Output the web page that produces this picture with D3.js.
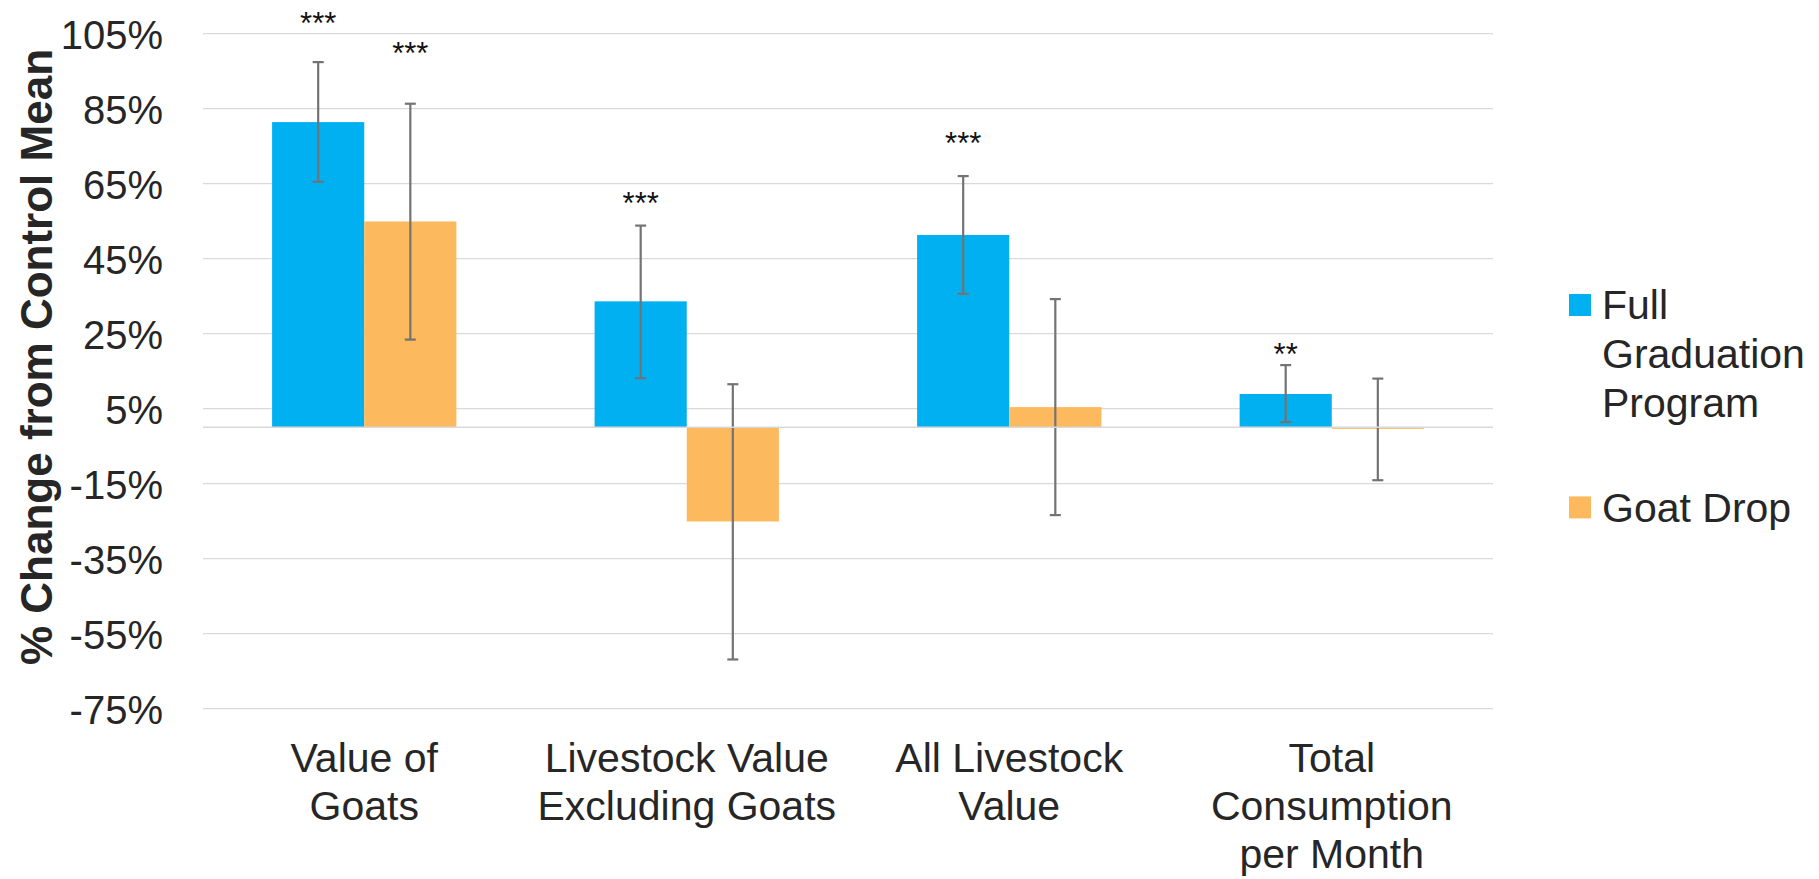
<!DOCTYPE html>
<html>
<head>
<meta charset="utf-8">
<script src="https://cdn.jsdelivr.net/npm/d3@7"></script>
<style>
  html, body { margin: 0; padding: 0; background: #fff; }
  svg { display: block; }
  text { font-family: "Liberation Sans", Arial, sans-serif; }
</style>
</head>
<body>
<svg id="chart" width="1819" height="879"></svg>
<script>
// Outcome categories (each entry split into its label lines)
const categories = ["Value of Goats", "Livestock Value Excluding Goats", "All Livestock Value", "Total Consumption per Month"];
const categoryLines = [["Value of", "Goats"], ["Livestock Value", "Excluding Goats"], ["All Livestock", "Value"], ["Total", "Consumption", "per Month"]];

const seriesNames = ["Full Graduation Program", "Goat Drop"];

// Percent change from the control mean, with confidence bounds
const fullGradValues = [81.4, 33.6, 51.3, 8.9];
const fullGradLow    = [65.5, 13.1, 35.6, 1.4];
const fullGradHigh   = [97.4, 53.8, 67.0, 16.6];

const goatDropValues = [54.9, -25.1, 5.4, -0.4];
const goatDropLow    = [23.4, -61.9, -23.4, -14.1];
const goatDropHigh   = [86.3, 11.5, 34.2, 13.0];

// Significance stars and the level (in %) at which each is written
const fullGradStars  = ["***", "***", "***", "**"];
const fullGradStarAt = [105, 57, 73, 16.5];
const goatDropStars  = ["***", "", "", ""];
const goatDropStarAt = [97, null, null, null];

const yTicks = [-75, -55, -35, -15, 5, 25, 45, 65, 85, 105];

const colors = { "Full Graduation Program": "#00B0F0", "Goat Drop": "#FDB95D" };

const series = [
  { name: seriesNames[0], values: fullGradValues, low: fullGradLow, high: fullGradHigh, stars: fullGradStars, starAt: fullGradStarAt },
  { name: seriesNames[1], values: goatDropValues, low: goatDropLow, high: goatDropHigh, stars: goatDropStars, starAt: goatDropStarAt }
];

const svg = d3.select("#chart");
const plot = { left: 203, right: 1493, top: 33.6, bottom: 708.6 };

const x0 = d3.scaleBand().domain(categories).range([plot.left, plot.right]).paddingInner(0).paddingOuter(0);
// gap between groups is 150% of a bar width
const barW = x0.bandwidth() / 3.5;
const x1 = d3.scaleBand().domain(seriesNames).range([0, barW * 2]);
const groupOffset = (x0.bandwidth() - barW * 2) / 2;

const y = d3.scaleLinear().domain([-75, 105]).range([plot.bottom, plot.top]);

// gridlines
svg.append("g")
  .selectAll("line")
  .data(yTicks)
  .join("line")
  .attr("x1", plot.left).attr("x2", plot.right)
  .attr("y1", d => y(d)).attr("y2", d => y(d))
  .attr("stroke", "#d9d9d9").attr("stroke-width", 1.3);

// y axis labels
const yAxis = d3.axisLeft(y).tickValues(yTicks).tickFormat(d => d + "%").tickSize(0).tickPadding(0);
const yG = svg.append("g").attr("transform", "translate(163,0)").call(yAxis);
yG.select(".domain").remove();
yG.selectAll("text")
  .attr("font-size", 40)
  .attr("fill", "#262626")
  .attr("font-family", "'Liberation Sans', Arial, sans-serif")
  .attr("dy", "0.36em");

// bars
const groups = svg.append("g")
  .selectAll("g")
  .data(categories)
  .join("g")
  .attr("transform", d => `translate(${x0(d) + groupOffset},0)`);

groups.each(function(cat, i) {
  const g = d3.select(this);
  series.forEach(s => {
    const v = s.values[i];
    g.append("rect")
      .attr("x", x1(s.name))
      .attr("width", x1.bandwidth())
      .attr("y", y(Math.max(0, v)))
      .attr("height", Math.max(Math.abs(y(v) - y(0)), 1.5))
      .attr("fill", colors[s.name]);
  });
});

// zero line
svg.append("line")
  .attr("x1", plot.left).attr("x2", plot.right)
  .attr("y1", y(0)).attr("y2", y(0))
  .attr("stroke", "#d9d9d9").attr("stroke-width", 1.5);

// error bars and stars
groups.each(function(cat, i) {
  const g = d3.select(this);
  series.forEach(s => {
    const cx = x1(s.name) + x1.bandwidth() / 2;
    const lo = y(s.low[i]), hi = y(s.high[i]);
    const eb = g.append("g").attr("stroke", "#737373").attr("stroke-width", 2.2);
    eb.append("line").attr("x1", cx).attr("x2", cx).attr("y1", hi).attr("y2", lo);
    eb.append("line").attr("x1", cx - 5.5).attr("x2", cx + 5.5).attr("y1", hi).attr("y2", hi);
    eb.append("line").attr("x1", cx - 5.5).attr("x2", cx + 5.5).attr("y1", lo).attr("y2", lo);
    if (s.stars[i]) {
      g.append("text")
        .attr("x", cx)
        .attr("y", y(s.starAt[i]))
        .attr("text-anchor", "middle")
        .attr("font-size", 31)
        .attr("fill", "#111")
        .text(s.stars[i]);
    }
  });
});

// category labels
svg.append("g")
  .selectAll("text")
  .data(categories)
  .join("text")
  .attr("x", d => x0(d) + x0.bandwidth() / 2)
  .attr("y", 771.5)
  .attr("text-anchor", "middle")
  .attr("font-size", 41)
  .attr("fill", "#262626")
  .each(function(d, i) {
    d3.select(this).selectAll("tspan")
      .data(categoryLines[i])
      .join("tspan")
      .attr("x", x0(d) + x0.bandwidth() / 2)
      .attr("dy", (t, j) => j === 0 ? 0 : 48)
      .text(t => t);
  });

// y axis title
svg.append("text")
  .attr("transform", "translate(52,357) rotate(-90)")
  .attr("text-anchor", "middle")
  .attr("font-size", 44)
  .attr("font-weight", "bold")
  .attr("fill", "#262626")
  .text("% Change from Control Mean");

// legend
const legendItems = [
  { name: seriesNames[0], lines: ["Full", "Graduation", "Program"], baseline: 319.3 },
  { name: seriesNames[1], lines: ["Goat Drop"], baseline: 521.7 }
];
const lg = svg.append("g");
legendItems.forEach(item => {
  lg.append("rect")
    .attr("x", 1569).attr("y", item.baseline - 25.3)
    .attr("width", 22).attr("height", 22)
    .attr("fill", colors[item.name]);
  const t = lg.append("text")
    .attr("x", 1602).attr("y", item.baseline)
    .attr("font-size", 41).attr("fill", "#262626");
  t.selectAll("tspan").data(item.lines).join("tspan")
    .attr("x", 1602)
    .attr("dy", (d, j) => j === 0 ? 0 : 48.7)
    .text(d => d);
});
</script>
</body>
</html>
